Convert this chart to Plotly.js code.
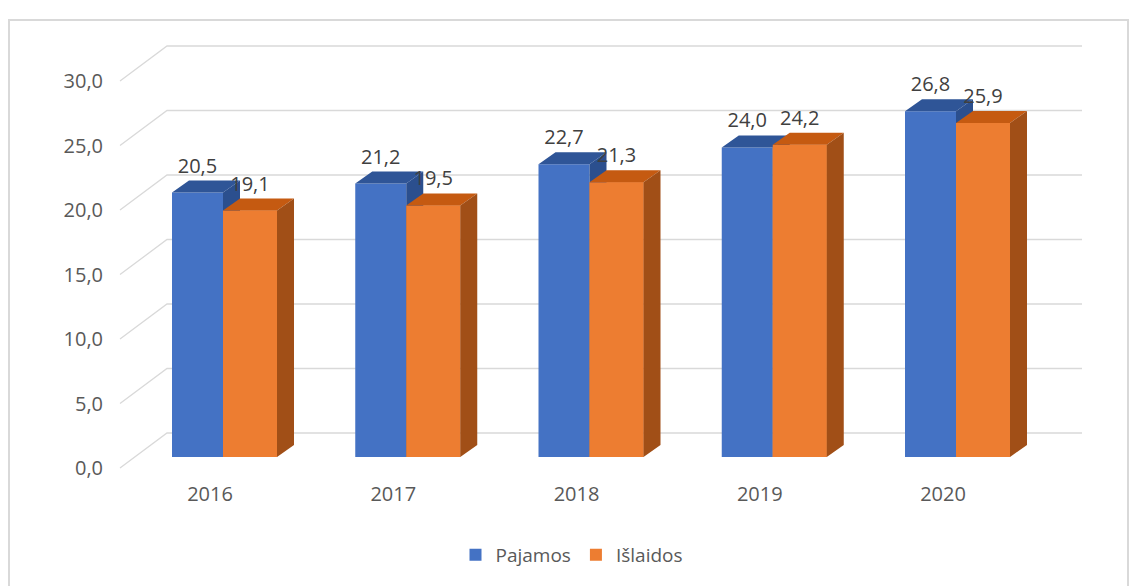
<!DOCTYPE html>
<html>
<head>
<meta charset="utf-8">
<script src="https://cdn.plot.ly/plotly-3.0.1.min.js"></script>
<style>
  html, body { margin: 0; padding: 0; background: #ffffff; }
  #wrap { position: relative; width: 1133px; height: 586px; overflow: hidden; }
  #frame { position: absolute; left: 8px; top: 19px; width: 1121px; height: 600px;
           border: 2px solid #d9d9d9; box-sizing: border-box; }
  #chart { position: absolute; left: 0; top: 0; width: 1133px; height: 586px; }
</style>
</head>
<body>
<div id="wrap">
  <div id="frame"></div>
  <div id="chart"></div>
</div>
<script>
// ---- data ----
const years = ['2016', '2017', '2018', '2019', '2020'];
const pajamos = [20.5, 21.2, 22.7, 24.0, 26.8];
const islaidos = [19.1, 19.5, 21.3, 24.2, 25.9];
const yTicks = [0, 5, 10, 15, 20, 25, 30];
const seriesNames = ['Pajamos', 'Išlaidos'];

// ---- geometry (pixels) ----
const W = 1133, H = 586;
const L = 104, R = 1100, T = 30, B = 480;
const K = 12.9;              // px per unit
const front0 = 468, bar0 = 457, back0 = 433;
const x0px = 223, gpx = 183.25;
const bwB = 51, bwO = 54;
const dxPx = 17, dyPx = 12;
const gridLF = 120, gridLB = 167, gridR = 1082;
const labelShiftPx = -13;
const labelAbovePx = 13;

const px2x = p => (p - x0px) / gpx;
const yRange = z => [-(B - z) / K, (z - T) / K];

const blue = '#4472C4', blueTop = '#2F5597', blueSide = '#2B4F8E';
const orange = '#ED7D31', orangeTop = '#C55A11', orangeSide = '#A14F17';
const font = '"Open Sans", sans-serif';
const txtCol = '#595959';

const idx = years.map((_, i) => i);
const wB = bwB / gpx, wO = bwO / gpx;
const d = dxPx / gpx, e = dyPx / K;

// gridlines on back plane (expressed on the front/label axis) with diagonal connectors
const gx = [], gy = [];
const backOff = (front0 - back0) / K;
yTicks.forEach(v => {
  gx.push(px2x(gridLF), px2x(gridLB), px2x(gridR), null);
  gy.push(v, v + backOff, v + backOff, null);
});

function faces(vals, offL, w) {
  const top = {x: [], y: []}, side = {x: [], y: []}, front = {x: [], y: []};
  vals.forEach((v, i) => {
    const xL = i + offL, xR = xL + w;
    top.x.push(xL, xR, xR + d, xL + d, xL, null);
    top.y.push(v, v, v + e, v + e, v, null);
    side.x.push(xR, xR + d, xR + d, xR, xR, null);
    side.y.push(0, e, v + e, v, 0, null);
    front.x.push(xL, xR, xR, xL, xL, null);
    front.y.push(0, 0, v, v, 0, null);
  });
  return {top, side, front};
}
const fB = faces(pajamos, -wB, wB);
const fO = faces(islaidos, 0, wO);

function poly(f, color) {
  return {type: 'scatter', mode: 'lines', x: f.x, y: f.y, fill: 'toself',
    fillcolor: color, line: {width: 0, color: color}, yaxis: 'y2',
    showlegend: false, hoverinfo: 'skip'};
}

const traces = [
  {type: 'scatter', mode: 'lines', x: gx, y: gy, yaxis: 'y',
   line: {color: '#d9d9d9', width: 1.3}, showlegend: false, hoverinfo: 'skip'},
  {type: 'bar', name: seriesNames[0], x: idx, y: pajamos, width: wB, offset: -wB,
   yaxis: 'y2', marker: {color: blue, line: {width: 0}}},
  {type: 'bar', name: seriesNames[1], x: idx, y: islaidos, width: wO, offset: 0,
   yaxis: 'y2', marker: {color: orange, line: {width: 0}}},
  poly(fB.top, blueTop),
  poly(fB.side, blueSide),
  poly(fO.front, orange),
  poly(fO.top, orangeTop),
  poly(fO.side, orangeSide),
  {type: 'scatter', mode: 'text', x: idx.map(i => i - wB / 2),
   y: pajamos.map(v => v + e + labelAbovePx / K), yaxis: 'y2',
   text: pajamos.map(v => v.toFixed(1).replace('.', ',')),
   textposition: 'middle center', textfont: {family: font, size: 20, color: '#404040'},
   showlegend: false, hoverinfo: 'skip'},
  {type: 'scatter', mode: 'text', x: idx.map(i => i + wO / 2),
   y: islaidos.map(v => v + e + labelAbovePx / K), yaxis: 'y2',
   text: islaidos.map(v => v.toFixed(1).replace('.', ',')),
   textposition: 'middle center', textfont: {family: font, size: 20, color: '#404040'},
   showlegend: false, hoverinfo: 'skip'}
];

const layout = {
  width: W, height: H,
  margin: {l: L, r: W - R, t: T, b: H - B},
  paper_bgcolor: 'rgba(0,0,0,0)', plot_bgcolor: 'rgba(0,0,0,0)',
  separators: ', ',
  barmode: 'overlay',
  showlegend: true,
  font: {family: font, size: 20, color: txtCol},
  xaxis: {range: [px2x(L), px2x(R)], showgrid: false, zeroline: false, showline: false,
    tickvals: idx.map(i => i + labelShiftPx / gpx), ticktext: years, ticks: '',
    tickfont: {family: font, size: 20, color: txtCol}, fixedrange: true},
  yaxis: {range: yRange(front0), tickvals: yTicks, tickformat: '.1f', showgrid: false,
    zeroline: false, showline: false, ticks: '',
    tickfont: {family: font, size: 20, color: txtCol}, fixedrange: true},
  yaxis2: {range: yRange(bar0), overlaying: 'y', visible: false, fixedrange: true},
  legend: {orientation: 'h', xref: 'container', yref: 'container',
    x: 572 / W, xanchor: 'center', y: 1 - 555 / H, yanchor: 'middle',
    font: {family: font, size: 19, color: txtCol}, traceorder: 'normal',
    itemwidth: 30, bgcolor: 'rgba(0,0,0,0)'}
};

Plotly.newPlot('chart', traces, layout, {displayModeBar: false, staticPlot: true});
</script>
</body>
</html>
